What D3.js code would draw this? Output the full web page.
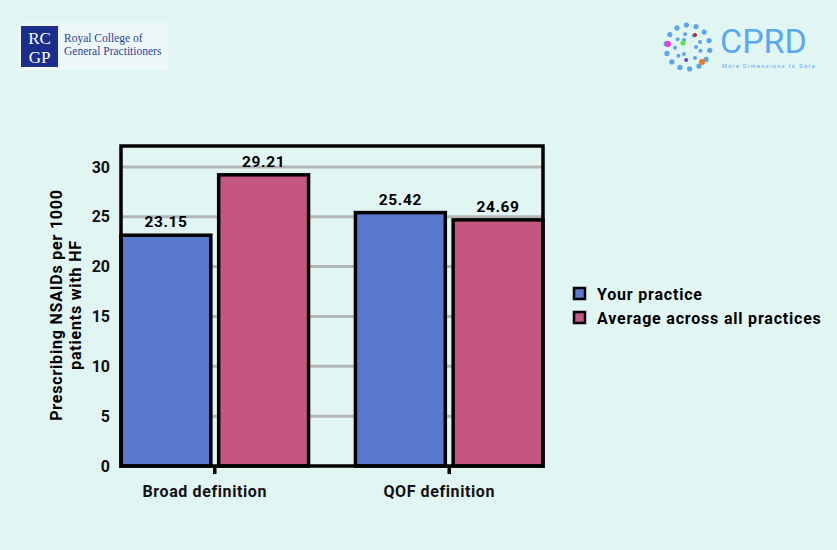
<!doctype html>
<html lang="en">
  <head>
    <meta charset="utf-8">
    <title>NSAIDs prescribing</title>
    <style>
      body { margin: 0; background: #e1f5f3; }
      svg { display: block; font-family: Roboto, "DejaVu Sans", sans-serif; }
    </style>
  </head>
  <body>
    <script src="https://d3js.org/d3.v7.min.js"></script>
    <script>
      // data
      var categories = ['Broad definition', 'QOF definition'];
      var seriesNames = ['Your practice', 'Average across all practices'];
      var yourPractice = [23.15, 25.42];
      var allPractices = [29.21, 24.69];
      var yTicks = [0, 5, 10, 15, 20, 25, 30];
      var colors = ['#5a78cd', '#c5567f'];

      var W = 837, H = 550;
      var margin = { top: 146, left: 121, right: 294, bottom: 84 };
      var width = W - margin.left - margin.right;
      var height = H - margin.top - margin.bottom;

      var svg = d3.select('body').append('svg')
          .attr('width', W)
          .attr('height', H);

      // ---- logos (decoration) ----
      var rc = svg.append('g');
      rc.append('rect').attr('x', 18).attr('y', 23).attr('width', 150).attr('height', 47).attr('fill', '#eef8f9');
      rc.append('rect').attr('x', 21).attr('y', 26).attr('width', 37).attr('height', 41).attr('fill', '#1b2e8c');
      rc.append('text').attr('x', 39.5).attr('y', 44).attr('text-anchor', 'middle')
          .attr('fill', '#fff').style('font-family', '"Liberation Serif", serif').style('font-size', '17px').text('RC');
      rc.append('text').attr('x', 39.5).attr('y', 63).attr('text-anchor', 'middle')
          .attr('fill', '#fff').style('font-family', '"Liberation Serif", serif').style('font-size', '17px').text('GP');
      rc.append('text').attr('x', 64).attr('y', 42)
          .attr('fill', '#2b3f9c').style('font-family', '"Liberation Serif", serif').style('font-size', '11.5px').text('Royal College of');
      rc.append('text').attr('x', 64).attr('y', 55)
          .attr('fill', '#2b3f9c').style('font-family', '"Liberation Serif", serif').style('font-size', '11.5px').text('General Practitioners');

      var cp = svg.append('g');
      var dots = [];
      [[8, 3], [13, 9], [22, 14]].forEach(function(ring, i) {
        for (var k = 0; k < ring[1]; k++) {
          var a = k / ring[1] * 2 * Math.PI + i * 0.3;
          dots.push([688 + ring[0] * Math.cos(a), 47 + ring[0] * Math.sin(a), i === 2 ? 2.6 : 2]);
        }
      });
      cp.selectAll('circle.d').data(dots).enter().append('circle')
          .attr('cx', function(d) { return d[0]; })
          .attr('cy', function(d) { return d[1]; })
          .attr('r', function(d) { return d[2]; })
          .attr('fill', '#5aa6ea');
      [[668, 44, 3, '#e83ad6'], [683, 43, 2.6, '#66e04a'], [695, 35, 2, '#c0262e'], [702, 62, 3, '#ee7a2a'], [686, 60, 1.8, '#7a3ab8']]
        .forEach(function(d) {
          cp.append('circle').attr('cx', d[0]).attr('cy', d[1]).attr('r', d[2]).attr('fill', d[3]);
        });
      cp.append('text').attr('x', 720).attr('y', 53).attr('fill', '#5aa8ee')
          .style('font-size', '34px').text('CPRD');
      cp.append('text').attr('x', 722).attr('y', 68).attr('fill', '#5aa8ee')
          .style('font-size', '5.5px').style('letter-spacing', '1.4px').text('More Dimensions to Data');

      // ---- chart ----
      var g = svg.append('g')
          .attr('transform', 'translate(' + margin.left + ',' + margin.top + ')');

      var x0 = d3.scaleBand().domain(categories).range([0, width]).paddingInner(0.2).paddingOuter(0);
      var x1 = d3.scaleBand().domain(seriesNames).range([0, x0.bandwidth()]).paddingInner(0.08);
      var y = d3.scaleLinear().domain([0, 32.1]).range([height, 0]);

      // gridlines
      g.selectAll('.grid').data(yTicks.filter(function(t) { return t > 0; }))
        .enter().append('line')
          .attr('x1', 0).attr('x2', width)
          .attr('y1', function(d) { return y(d); })
          .attr('y2', function(d) { return y(d); })
          .attr('stroke', '#b4b6b6').attr('stroke-width', 3);

      var rows = categories.map(function(c, i) {
        return { cat: c, vals: [yourPractice[i], allPractices[i]] };
      });

      var grp = g.selectAll('.grp').data(rows).enter().append('g')
          .attr('transform', function(d) { return 'translate(' + x0(d.cat) + ',0)'; });

      var bars = grp.selectAll('.bar')
        .data(function(d) { return d.vals.map(function(v, j) { return { s: seriesNames[j], v: v, j: j }; }); })
        .enter();

      bars.append('rect')
          .attr('x', function(d) { return x1(d.s); })
          .attr('y', function(d) { return y(d.v); })
          .attr('width', x1.bandwidth())
          .attr('height', function(d) { return height - y(d.v); })
          .attr('fill', function(d) { return colors[d.j]; })
          .attr('stroke', '#000').attr('stroke-width', 3.5);

      bars.append('text')
          .attr('x', function(d) { return x1(d.s) + x1.bandwidth() / 2; })
          .attr('y', function(d) { return y(d.v) - 8; })
          .attr('text-anchor', 'middle')
          .style('font-size', '15.5px').style('font-weight', 'bold').style('letter-spacing', '0.6px')
          .text(function(d) { return d.v.toFixed(2); });

      // frame
      g.append('rect').attr('x', 0).attr('y', 0).attr('width', width).attr('height', height)
          .attr('fill', 'none').attr('stroke', '#000').attr('stroke-width', 3.5);

      // y axis
      var yAxis = g.append('g')
          .call(d3.axisLeft(y).tickValues(yTicks).tickSize(0).tickPadding(11));
      yAxis.select('.domain').remove();
      yAxis.selectAll('text')
          .style('font-size', '16px').style('font-weight', 'bold')
          .style('font-family', 'Roboto, sans-serif').attr('fill', '#111');

      // x axis
      var xAxis = g.append('g')
          .attr('transform', 'translate(0,' + height + ')')
          .call(d3.axisBottom(x0).tickSize(8).tickPadding(12));
      xAxis.select('.domain').remove();
      xAxis.selectAll('line').attr('stroke', '#000').attr('stroke-width', 3.5);
      xAxis.selectAll('text')
          .attr('dx', -10)
          .style('font-size', '16px').style('font-weight', 'bold').style('letter-spacing', '0.6px')
          .style('font-family', 'Roboto, sans-serif').attr('fill', '#111');

      // y title
      var yt = svg.append('text')
          .attr('transform', 'translate(62,305) rotate(-90)')
          .attr('text-anchor', 'middle')
          .style('font-size', '16px').style('font-weight', 'bold').style('letter-spacing', '0.8px');
      yt.append('tspan').attr('x', 0).attr('dy', 0).text('Prescribing NSAIDs per 1000');
      yt.append('tspan').attr('x', 0).attr('dy', 19).text('patients with HF');

      // legend
      var leg = svg.append('g').attr('transform', 'translate(573,287)');
      var li = leg.selectAll('.li').data(seriesNames).enter().append('g')
          .attr('transform', function(d, i) { return 'translate(0,' + i * 24 + ')'; });
      li.append('rect').attr('x', 1).attr('y', 1).attr('width', 11).attr('height', 11)
          .attr('fill', function(d, i) { return colors[i]; })
          .attr('stroke', '#000').attr('stroke-width', 2.5);
      li.append('text').attr('x', 24).attr('y', 12.5)
          .style('font-size', '16px').style('font-weight', 'bold').style('letter-spacing', '0.8px')
          .text(function(d) { return d; });
    </script>
  </body>
</html>
